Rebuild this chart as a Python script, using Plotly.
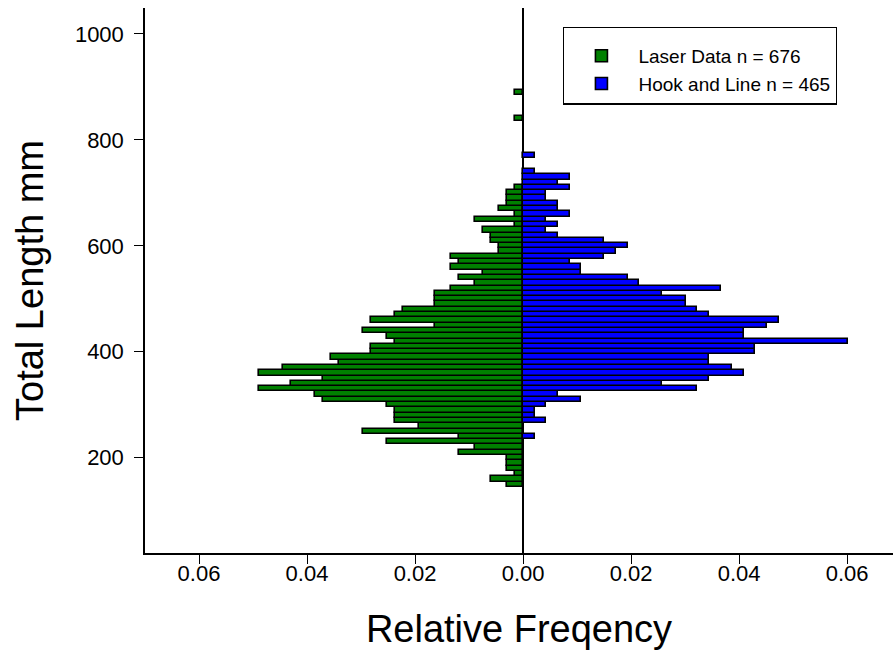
import plotly.graph_objects as go

# ---- data ----
laser_n = 676
hook_n = 465

laser_length_mm = [150, 160, 170, 180, 190, 200, 210, 220, 230, 240,
                   250, 260, 270, 280, 290, 300, 310, 320, 330, 340,
                   350, 360, 370, 380, 390, 400, 410, 420, 430, 440,
                   450, 460, 470, 480, 490, 500, 510, 520, 530, 540,
                   550, 560, 570, 580, 590, 600, 610, 620, 630, 640,
                   650, 660, 670, 680, 690, 700, 710, 840, 890]
laser_counts = [2, 4, 1, 2, 2, 2, 8, 6, 17, 8,
                20, 13, 16, 16, 16, 17, 25, 26, 33, 29,
                25, 33, 30, 23, 24, 19, 19, 16, 17, 20,
                11, 19, 16, 15, 11, 11, 11, 9, 6, 8,
                5, 9, 8, 9, 3, 3, 4, 4, 5, 1,
                6, 1, 3, 2, 2, 2, 1, 1, 1]

hook_length_mm = [240, 270, 280, 290, 300, 310, 320, 330, 340, 350,
                  360, 370, 380, 390, 400, 410, 420, 430, 440, 450,
                  460, 470, 480, 490, 500, 510, 520, 530, 540, 550,
                  560, 570, 580, 590, 600, 610, 620, 630, 640, 650,
                  660, 670, 680, 690, 700, 710, 720, 730, 740, 770]
hook_counts = [1, 2, 1, 1, 2, 5, 3, 15, 12, 16,
               19, 18, 16, 16, 20, 20, 28, 19, 19, 21,
               22, 16, 15, 14, 14, 12, 17, 10, 9, 5,
               5, 4, 7, 8, 9, 7, 3, 2, 3, 2,
               4, 3, 3, 2, 2, 4, 3, 4, 1, 1]

x_tick_vals = [-0.06, -0.04, -0.02, 0.0, 0.02, 0.04, 0.06]
x_tick_text = ["0.06", "0.04", "0.02", "0.00", "0.02", "0.04", "0.06"]
y_tick_vals = [200, 400, 600, 800, 1000]

laser_label = "Laser Data n = %d" % laser_n
hook_label = "Hook and Line n = %d" % hook_n

laser_freq = [-c / laser_n for c in laser_counts]
hook_freq = [c / hook_n for c in hook_counts]

FONT = "Liberation Sans, Arial, sans-serif"

fig = go.Figure()
fig.add_trace(go.Bar(
    y=laser_length_mm, x=laser_freq, orientation="h", width=10,
    name=laser_label,
    marker=dict(color="#008000", line=dict(color="black", width=1.6)),
))
fig.add_trace(go.Bar(
    y=hook_length_mm, x=hook_freq, orientation="h", width=10,
    name=hook_label,
    marker=dict(color="#0000FF", line=dict(color="black", width=1.6)),
))

fig.update_layout(
    width=893, height=652,
    margin=dict(l=145, r=0, t=8, b=99),
    paper_bgcolor="white", plot_bgcolor="white",
    barmode="relative", bargap=0,
    font=dict(family=FONT, color="black"),
    showlegend=True,
    legend=dict(
        x=0.559, y=0.966, xanchor="left", yanchor="top",
        bgcolor="white", bordercolor="black", borderwidth=1.3,
        font=dict(size=19, family=FONT),
        title=dict(text=" ", font=dict(size=7, family=FONT)),
        itemwidth=64,
        traceorder="normal",
    ),
    xaxis=dict(
        range=[-0.07, 0.0685],
        tickvals=x_tick_vals, ticktext=x_tick_text,
        ticks="outside", ticklen=9, tickwidth=1.3, tickcolor="black",
        showline=True, linecolor="black", linewidth=1.5,
        showgrid=False, zeroline=True, zerolinecolor="black", zerolinewidth=1.5,
        tickfont=dict(size=22, family=FONT),
        ticklabelstandoff=-9,
        title=dict(text="Relative Freqency", font=dict(size=38, family=FONT), standoff=30),
    ),
    yaxis=dict(
        range=[20, 1049],
        tickvals=y_tick_vals,
        ticks="outside", ticklen=9, tickwidth=1.3, tickcolor="black",
        showline=True, linecolor="black", linewidth=1.5,
        showgrid=False, zeroline=False,
        tickfont=dict(size=22, family=FONT),
        ticklabelstandoff=6,
        title=dict(text="Total Length mm", font=dict(size=38, family=FONT), standoff=20),
    ),
)

fig.write_html(
    "out.html",
    config={"displayModeBar": False},
    post_script="document.body.style.margin='0';document.body.style.overflow='hidden';",
)
